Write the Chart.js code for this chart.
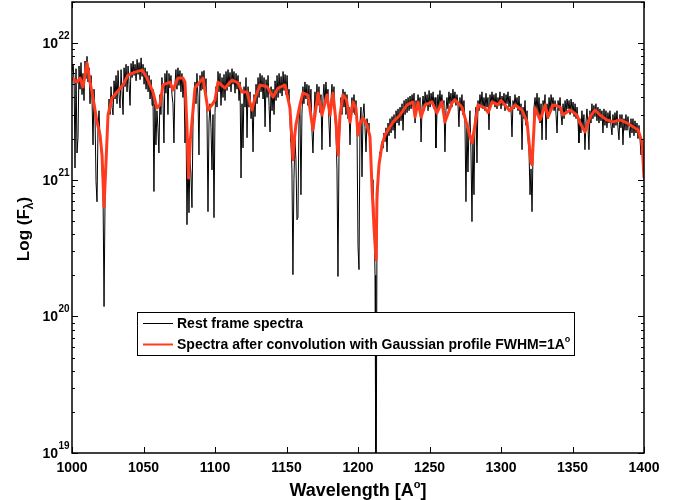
<!DOCTYPE html>
<html>
<head>
<meta charset="utf-8">
<script src="https://cdn.jsdelivr.net/npm/chart.js@4.4.1/dist/chart.umd.min.js"></script>
<style>
  html, body { margin: 0; padding: 0; background: #fff; }
  #wrap { width: 688px; height: 500px; }
</style>
</head>
<body>
<div id="wrap"><canvas id="spec" width="688" height="500"></canvas></div>
<script>
'use strict';
// wavelength in Angstrom, flux in units of 1e21
const waveBlack = [
  1000.0, 1000.8, 1001.5, 1002.1, 1002.8, 1003.5, 1004.2, 1004.9, 1005.6, 1006.3,
  1007.0, 1007.7, 1008.4, 1009.1, 1009.8, 1010.5, 1011.2, 1011.9, 1012.6, 1013.3,
  1014.0, 1014.7, 1015.4, 1016.1, 1016.8, 1017.5, 1018.2, 1018.9, 1019.6, 1020.3,
  1021.0, 1021.7, 1022.4, 1023.1, 1023.8, 1024.5, 1025.2, 1025.9, 1026.6, 1027.3,
  1028.0, 1028.7, 1029.4, 1030.1, 1030.8, 1031.5, 1032.2, 1032.9, 1033.6, 1034.3,
  1035.0, 1035.7, 1036.4, 1037.1, 1037.8, 1038.5, 1039.2, 1039.9, 1040.6, 1041.3,
  1042.0, 1042.7, 1043.4, 1044.1, 1044.8, 1045.5, 1046.2, 1046.9, 1047.6, 1048.3,
  1049.0, 1049.7, 1050.4, 1051.1, 1051.8, 1052.5, 1053.2, 1053.9, 1054.6, 1055.3,
  1056.0, 1056.6, 1057.3, 1058.0, 1058.7, 1059.4, 1060.1, 1060.8, 1061.5, 1062.2,
  1062.9, 1063.6, 1064.3, 1065.0, 1065.7, 1066.4, 1067.1, 1067.8, 1068.5, 1069.2,
  1069.9, 1070.6, 1071.3, 1072.0, 1072.7, 1073.4, 1074.1, 1074.8, 1075.5, 1076.2,
  1076.9, 1077.6, 1078.3, 1079.0, 1079.7, 1080.4, 1081.1, 1081.8, 1082.5, 1083.2,
  1083.9, 1084.6, 1085.3, 1086.0, 1086.7, 1087.4, 1088.1, 1088.8, 1089.5, 1090.2,
  1090.9, 1091.6, 1092.3, 1093.0, 1093.7, 1094.4, 1095.1, 1095.8, 1096.5, 1097.2,
  1097.9, 1098.6, 1099.3, 1100.0, 1100.7, 1101.4, 1102.1, 1102.8, 1103.5, 1104.2,
  1104.9, 1105.6, 1106.3, 1107.0, 1107.7, 1108.4, 1109.1, 1109.8, 1110.5, 1111.2,
  1111.9, 1112.6, 1113.3, 1114.0, 1114.7, 1115.4, 1116.1, 1116.8, 1117.5, 1118.2,
  1118.9, 1119.6, 1120.3, 1121.0, 1121.7, 1122.4, 1123.1, 1123.8, 1124.5, 1125.2,
  1125.9, 1126.6, 1127.3, 1128.0, 1128.7, 1129.4, 1130.1, 1130.8, 1131.5, 1132.2,
  1132.9, 1133.6, 1134.3, 1135.0, 1135.7, 1136.4, 1137.1, 1137.8, 1138.5, 1139.2,
  1139.9, 1140.6, 1141.3, 1142.0, 1142.7, 1143.4, 1144.1, 1144.8, 1145.5, 1146.2,
  1146.9, 1147.6, 1148.3, 1149.0, 1149.7, 1150.4, 1151.1, 1151.8, 1152.5, 1153.1,
  1153.8, 1154.5, 1155.2, 1155.9, 1156.6, 1157.3, 1158.0, 1158.7, 1159.4, 1160.1,
  1160.8, 1161.5, 1162.2, 1162.9, 1163.6, 1164.3, 1165.0, 1165.7, 1166.4, 1167.1,
  1167.8, 1168.5, 1169.2, 1169.9, 1170.6, 1171.3, 1172.0, 1172.7, 1173.4, 1174.1,
  1174.8, 1175.5, 1176.2, 1176.9, 1177.6, 1178.3, 1179.0, 1179.7, 1180.4, 1181.1,
  1181.8, 1182.5, 1183.2, 1183.9, 1184.6, 1185.3, 1186.0, 1186.7, 1187.4, 1188.1,
  1188.8, 1189.5, 1190.2, 1190.9, 1191.6, 1192.3, 1193.0, 1193.7, 1194.4, 1195.1,
  1195.8, 1196.5, 1197.2, 1197.9, 1198.6, 1199.3, 1200.0, 1200.7, 1201.4, 1202.1,
  1202.8, 1203.5, 1204.2, 1204.9, 1205.6, 1206.3, 1207.0, 1207.7, 1208.4, 1209.1,
  1209.8, 1210.5, 1211.2, 1211.9, 1212.4, 1212.8, 1213.3, 1214.0, 1214.7, 1215.4,
  1216.1, 1216.8, 1217.5, 1218.2, 1218.9, 1219.6, 1220.3, 1221.0, 1221.7, 1222.4,
  1223.1, 1223.8, 1224.5, 1225.2, 1225.9, 1226.6, 1227.3, 1228.0, 1228.7, 1229.4,
  1230.1, 1230.8, 1231.5, 1232.2, 1232.9, 1233.6, 1234.3, 1235.0, 1235.7, 1236.4,
  1237.1, 1237.8, 1238.5, 1239.2, 1239.9, 1240.6, 1241.3, 1242.0, 1242.7, 1243.4,
  1244.1, 1244.8, 1245.5, 1246.2, 1246.9, 1247.6, 1248.3, 1249.0, 1249.7, 1250.4,
  1251.1, 1251.8, 1252.5, 1253.2, 1253.9, 1254.5, 1255.2, 1255.9, 1256.6, 1257.3,
  1258.0, 1258.7, 1259.4, 1260.1, 1260.8, 1261.5, 1262.2, 1262.9, 1263.6, 1264.3,
  1265.0, 1265.7, 1266.4, 1267.1, 1267.8, 1268.5, 1269.2, 1269.9, 1270.6, 1271.3,
  1272.0, 1272.7, 1273.4, 1274.1, 1274.8, 1275.5, 1276.2, 1276.9, 1277.6, 1278.3,
  1279.0, 1279.7, 1280.4, 1281.1, 1281.8, 1282.5, 1283.2, 1283.9, 1284.6, 1285.3,
  1286.0, 1286.7, 1287.4, 1288.1, 1288.8, 1289.5, 1290.2, 1290.9, 1291.6, 1292.3,
  1293.0, 1293.7, 1294.4, 1295.1, 1295.8, 1296.5, 1297.2, 1297.9, 1298.6, 1299.3,
  1300.0, 1300.7, 1301.4, 1302.1, 1302.8, 1303.5, 1304.2, 1304.9, 1305.6, 1306.3,
  1307.0, 1307.7, 1308.4, 1309.1, 1309.8, 1310.5, 1311.2, 1311.9, 1312.6, 1313.3,
  1314.0, 1314.7, 1315.4, 1316.1, 1316.8, 1317.5, 1318.2, 1318.9, 1319.6, 1320.3,
  1321.0, 1321.7, 1322.4, 1323.1, 1323.8, 1324.5, 1325.2, 1325.9, 1326.6, 1327.3,
  1328.0, 1328.7, 1329.4, 1330.1, 1330.8, 1331.5, 1332.2, 1332.9, 1333.6, 1334.3,
  1335.0, 1335.7, 1336.4, 1337.1, 1337.8, 1338.5, 1339.2, 1339.9, 1340.6, 1341.3,
  1342.0, 1342.7, 1343.4, 1344.1, 1344.8, 1345.5, 1346.2, 1346.9, 1347.6, 1348.3,
  1349.0, 1349.7, 1350.4, 1351.1, 1351.8, 1352.5, 1353.2, 1353.9, 1354.5, 1355.2,
  1355.9, 1356.6, 1357.3, 1358.0, 1358.7, 1359.4, 1360.1, 1360.8, 1361.5, 1362.2,
  1362.9, 1363.6, 1364.3, 1365.0, 1365.7, 1366.4, 1367.1, 1367.8, 1368.5, 1369.2,
  1369.9, 1370.6, 1371.3, 1372.0, 1372.7, 1373.4, 1374.1, 1374.8, 1375.5, 1376.2,
  1376.9, 1377.6, 1378.3, 1379.0, 1379.7, 1380.4, 1381.1, 1381.8, 1382.5, 1383.2,
  1383.9, 1384.6, 1385.3, 1386.0, 1386.7, 1387.4, 1388.1, 1388.8, 1389.5, 1390.2,
  1390.9, 1391.6, 1392.3, 1393.0, 1393.7, 1394.4, 1395.1, 1395.8, 1396.5, 1397.2,
  1397.9, 1398.6, 1399.3, 1400.0
];
const fluxBlack = [
  6.2, 7.0, 5.0, 1.22, 6.5, 1.57, 2.03, 6.8, 4.6, 7.2,
  4.2, 6.0, 3.8, 7.4, 5.5, 8.0, 5.2, 6.6, 3.6, 5.8,
  3.9, 1.80, 4.6, 2.9, 0.97, 0.69, 2.4, 3.2, 2.0, 1.7,
  1.3, 0.8, 0.118, 0.7, 1.4, 2.1, 2.65, 3.9, 3.0, 4.8,
  3.4, 2.98, 5.3, 3.9, 5.8, 3.6, 6.3, 4.2, 3.35, 6.4,
  4.5, 3.0, 6.6, 4.8, 7.0, 4.4, 6.8, 5.0, 3.5, 7.1,
  5.6, 7.4, 5.8, 7.0, 5.3, 7.6, 5.9, 7.2, 5.4, 7.8,
  5.7, 7.0, 5.0, 6.6, 4.6, 6.2, 4.4, 5.8, 3.9, 5.4,
  3.5, 4.6, 0.82, 3.6, 1.80, 3.2, 2.4, 1.57, 4.2, 3.0,
  5.6, 3.9, 1.86, 6.0, 4.3, 6.3, 3.0, 6.0, 4.7, 5.8,
  4.2, 3.6, 1.86, 5.0, 6.4, 4.6, 6.6, 4.9, 6.3, 4.4,
  6.0, 4.0, 5.4, 1.86, 3.0, 0.469, 1.6, 0.574, 1.4, 1.1,
  0.625, 2.5, 3.8, 5.2, 3.6, 6.0, 4.0, 1.52, 5.8, 4.5,
  6.2, 4.6, 6.3, 4.2, 5.5, 3.0, 0.584, 2.6, 3.6, 2.4,
  1.18, 3.0, 0.528, 3.1, 4.8, 3.4, 6.2, 4.4, 6.0, 3.5,
  5.6, 4.0, 5.9, 3.8, 6.2, 4.5, 6.4, 4.8, 6.1, 4.4,
  6.5, 5.0, 6.2, 4.3, 6.0, 4.6, 5.8, 3.8, 5.2, 1.03,
  3.6, 1.71, 4.8, 3.4, 5.6, 2.03, 4.8, 3.4, 4.4, 2.8,
  3.6, 1.60, 4.2, 2.9, 5.0, 3.6, 5.6, 4.0, 6.0, 4.4,
  5.8, 3.9, 5.6, 2.44, 5.4, 4.0, 5.8, 3.5, 2.24, 4.8,
  3.2, 4.6, 3.0, 5.3, 3.8, 5.8, 4.0, 6.0, 4.3, 5.7,
  4.1, 6.2, 4.5, 5.9, 4.2, 5.8, 4.0, 4.6, 2.6, 1.9,
  1.2, 0.202, 1.0, 2.0, 1.4, 0.51, 0.528, 2.6, 3.6, 0.777,
  3.0, 4.8, 3.6, 5.2, 3.9, 5.0, 3.5, 4.9, 3.3, 4.6,
  2.3, 1.57, 2.8, 4.4, 3.4, 5.0, 3.5, 4.8, 3.1, 4.2,
  1.66, 3.9, 5.0, 3.6, 5.2, 3.8, 4.6, 2.6, 1.74, 3.8,
  5.0, 3.6, 4.8, 2.8, 2.2, 1.2, 0.196, 1.5, 2.6, 4.0,
  3.0, 4.6, 3.4, 4.4, 3.0, 4.2, 2.8, 3.4, 1.80, 3.2,
  4.0, 3.1, 4.2, 3.0, 3.8, 2.4, 0.324, 0.220, 2.6, 3.4,
  1.05, 3.0, 3.6, 2.4, 1.60, 2.8, 2.3, 2.6, 1.9, 1.6,
  0.817, 1.0, 0.55, 0.2, 0.01, 0.01, 0.5, 1.0, 1.3, 1.6,
  1.5, 1.9, 1.7, 2.2, 1.9, 2.4, 1.6, 2.6, 2.1, 2.8,
  2.2, 2.9, 2.3, 3.0, 2.0, 3.2, 2.6, 3.3, 2.5, 3.4,
  2.7, 3.6, 2.3, 3.8, 3.0, 3.9, 3.1, 4.0, 3.2, 4.1,
  3.3, 4.2, 3.4, 4.3, 2.6, 3.8, 3.3, 4.2, 3.4, 4.0,
  1.89, 3.4, 4.1, 3.2, 4.4, 3.5, 4.2, 3.2, 4.5, 3.4,
  4.3, 3.6, 4.4, 3.3, 4.0, 1.71, 3.0, 4.2, 3.4, 4.5,
  3.5, 4.2, 3.1, 3.8, 1.60, 3.2, 4.0, 3.3, 4.4, 3.6,
  4.3, 3.4, 4.6, 3.7, 4.4, 3.5, 4.2, 3.6, 2.44, 4.0,
  3.2, 4.2, 3.0, 3.8, 2.6, 0.691, 2.6, 1.14, 2.4, 3.2,
  1.6, 0.494, 2.0, 0.777, 2.8, 3.4, 1.33, 3.8, 3.2, 4.2,
  3.5, 4.4, 3.3, 4.0, 3.2, 4.3, 3.4, 4.0, 2.32, 4.2,
  3.5, 4.4, 3.6, 4.2, 3.4, 4.3, 3.3, 4.0, 3.5, 4.4,
  3.3, 4.1, 3.5, 4.3, 3.2, 4.2, 3.6, 4.4, 3.4, 4.1,
  3.3, 2.06, 3.8, 3.3, 4.2, 3.5, 4.0, 3.2, 4.1, 3.0,
  3.6, 1.66, 3.4, 2.8, 3.8, 2.5, 3.2, 2.0, 1.6, 0.777,
  1.2, 0.584, 1.6, 3.4, 4.0, 3.2, 4.3, 3.0, 4.0, 2.6,
  3.6, 1.96, 3.8, 3.2, 4.2, 1.96, 3.6, 2.8, 4.0, 3.2,
  4.2, 3.5, 4.0, 3.2, 3.8, 3.0, 2.20, 3.8, 3.2, 4.0,
  3.0, 2.52, 3.6, 2.8, 3.8, 3.1, 3.9, 3.3, 3.8, 3.0,
  3.9, 3.2, 3.7, 2.9, 3.6, 2.8, 3.4, 2.6, 1.86, 2.8,
  2.2, 3.2, 2.4, 3.0, 1.66, 2.6, 3.3, 2.5, 1.66, 3.2,
  2.6, 3.6, 2.8, 3.5, 2.9, 3.6, 2.7, 3.4, 2.6, 3.3,
  2.7, 3.2, 2.20, 3.3, 2.5, 3.2, 2.4, 3.1, 2.6, 3.2,
  2.5, 2.13, 3.0, 2.4, 3.1, 2.5, 3.2, 2.4, 1.96, 3.0,
  2.4, 3.0, 1.80, 2.8, 2.3, 3.0, 2.3, 2.9, 2.4, 2.03,
  2.8, 2.2, 2.8, 2.1, 2.7, 2.2, 2.6, 2.0, 2.5, 2.0,
  1.52, 1.9, 1.3, 1.0
];
const waveRed = [
  1000.0, 1003.5, 1005.6, 1007.7, 1010.5, 1012.6, 1014.7, 1017.5, 1019.6, 1021.0,
  1022.4, 1024.0, 1025.2, 1028.0, 1031.5, 1035.7, 1039.2, 1044.1, 1049.0, 1052.4,
  1056.6, 1059.4, 1061.5, 1063.6, 1068.5, 1070.6, 1074.1, 1077.6, 1079.0, 1080.3,
  1081.5, 1082.8, 1083.9, 1086.0, 1091.6, 1095.1, 1097.9, 1100.0, 1102.1, 1107.0,
  1111.9, 1116.1, 1118.9, 1122.4, 1125.9, 1128.0, 1131.5, 1136.4, 1140.6, 1144.1,
  1149.0, 1152.4, 1153.5, 1154.5, 1155.5, 1156.6, 1159.4, 1161.5, 1165.0, 1168.5,
  1172.0, 1174.8, 1178.3, 1180.4, 1182.5, 1184.6, 1186.0, 1187.4, 1189.5, 1192.0,
  1194.4, 1196.5, 1198.6, 1200.0, 1201.5, 1203.5, 1206.3, 1208.4, 1209.8, 1211.2,
  1212.6, 1213.3, 1214.7, 1216.8, 1218.9, 1222.4, 1224.5, 1229.4, 1234.3, 1238.5,
  1239.9, 1242.0, 1244.1, 1246.9, 1251.7, 1255.2, 1258.7, 1260.8, 1265.7, 1267.8,
  1272.7, 1276.2, 1279.7, 1281.8, 1283.9, 1288.8, 1291.0, 1293.7, 1297.9, 1300.0,
  1302.8, 1306.0, 1309.8, 1314.7, 1318.2, 1321.0, 1321.7, 1323.8, 1327.3, 1330.8,
  1332.9, 1336.4, 1341.3, 1343.4, 1348.3, 1353.1, 1355.2, 1358.7, 1362.2, 1365.7,
  1369.2, 1374.1, 1378.3, 1383.2, 1388.1, 1392.3, 1395.8, 1398.6, 1400.0
];
const fluxRed = [
  5.55, 5.19, 5.55, 4.77, 7.15, 5.19, 3.97, 2.65, 2.13, 1.52,
  0.635, 1.52, 2.98, 3.97, 4.39, 4.94, 5.84, 6.14, 6.35, 5.55,
  4.39, 3.35, 3.53, 4.94, 5.19, 4.54, 5.55, 5.55, 5.19, 2.6,
  1.03, 2.0, 2.65, 4.69, 5.55, 3.24, 3.53, 3.84, 5.19, 4.69,
  5.37, 5.11, 4.39, 4.39, 3.24, 3.97, 4.94, 4.80, 4.03, 4.69,
  4.94, 3.35, 2.2, 1.40, 2.0, 2.52, 3.53, 4.32, 4.17, 2.32,
  4.32, 2.98, 4.17, 2.98, 4.32, 2.65, 1.52, 2.98, 4.17, 3.84,
  2.65, 3.71, 3.35, 2.13, 2.6, 2.83, 2.52, 2.06, 0.874, 0.45,
  0.26, 0.777, 1.29, 1.80, 2.13, 2.44, 2.65, 2.98, 3.53, 3.71,
  2.88, 3.71, 2.88, 3.53, 3.71, 3.08, 3.71, 2.65, 3.65, 3.84,
  3.41, 2.52, 1.86, 2.52, 3.53, 3.35, 3.1, 3.71, 3.53, 3.8,
  3.53, 3.2, 3.53, 3.24, 2.65, 1.33, 1.29, 3.35, 2.74, 3.53,
  2.88, 3.53, 3.41, 2.98, 3.24, 2.98, 2.61, 2.24, 2.88, 3.24,
  2.98, 2.74, 2.65, 2.74, 2.61, 2.44, 2.32, 1.89, 1.03
];
const xTicks = [1000, 1050, 1100, 1150, 1200, 1250, 1300, 1350, 1400];
const yDecades = [19, 20, 21, 22];
const seriesNames = ['Rest frame spectra', 'Spectra after convolution with Gaussian profile FWHM=1A'];

const FONT = '"Liberation Sans", Arial, Helvetica, sans-serif';

function toPoints(w, f) {
    let out = [];
    for (let i = 0; i < Math.min(w.length, f.length); i++) {
        out.push({x: w[i], y: f[i] * 1e21});
    }
    return out;
}

// draws text made of pieces with different size / vertical shift
function richText(c, parts, x, y, align) {
    let total = 0;
    parts.forEach(p => { c.font = 'bold ' + p.size + 'px ' + FONT; p.w = c.measureText(p.t).width; total += p.w; });
    let cx = align === 'center' ? x - total / 2 : x;
    c.textAlign = 'left';
    c.textBaseline = 'alphabetic';
    parts.forEach(p => {
        c.font = 'bold ' + p.size + 'px ' + FONT;
        c.fillText(p.t, cx, y + (p.dy || 0));
        cx += p.w;
    });
}

const matlabFrame = {
    id: 'matlabFrame',
    beforeDraw(chart) {
        const c = chart.ctx;
        c.save();
        c.fillStyle = '#fff';
        c.fillRect(0, 0, chart.width, chart.height);
        c.restore();
    },
    afterDraw(chart) {
        const c = chart.ctx, a = chart.chartArea;
        const xs = chart.scales.x, ys = chart.scales.y;
        c.save();
        c.strokeStyle = '#000';
        c.fillStyle = '#000';

        // ticks, pointing inwards, mirrored
        c.lineWidth = 1;
        c.beginPath();
        xTicks.forEach(v => {
            const px = Math.round(xs.getPixelForValue(v)) + 0.5;
            c.moveTo(px, a.bottom); c.lineTo(px, a.bottom - 6);
            c.moveTo(px, a.top); c.lineTo(px, a.top + 6);
        });
        yDecades.forEach(d => {
            for (let k = 1; k < 10; k++) {
                const v = k * Math.pow(10, d);
                if (v > ys.max) break;
                const py = Math.round(ys.getPixelForValue(v)) + 0.5;
                const len = k === 1 ? 6 : 3;
                c.moveTo(a.left, py); c.lineTo(a.left + len, py);
                c.moveTo(a.right, py); c.lineTo(a.right - len, py);
            }
        });
        c.stroke();

        c.lineWidth = 1.5;
        c.strokeRect(a.left, a.top, a.right - a.left, a.bottom - a.top);

        // y tick labels 10^n
        yDecades.forEach(d => {
            const py = ys.getPixelForValue(Math.pow(10, d));
            c.font = 'bold 14px ' + FONT;
            c.textAlign = 'right';
            c.textBaseline = 'middle';
            c.fillText('10', a.left - 14, py + 1);
            c.font = 'bold 10px ' + FONT;
            c.textAlign = 'left';
            c.fillText(String(d), a.left - 13.5, py - 7);
        });

        // axis titles
        richText(c, [{t: 'Wavelength [A', size: 18}, {t: 'o', size: 11, dy: -8}, {t: ']', size: 18}],
            (a.left + a.right) / 2, 496, 'center');
        c.save();
        c.translate(29, 229);
        c.rotate(-Math.PI / 2);
        richText(c, [{t: 'Log (F', size: 17}, {t: '\u03bb', size: 12, dy: 4}, {t: ')', size: 17}], 0, 0, 'center');
        c.restore();

        // legend
        const lx = 137, ly = 312, lw = 437, lh = 43;
        c.fillStyle = '#fff';
        c.fillRect(lx, ly, lw, lh);
        c.lineWidth = 1;
        c.strokeStyle = '#000';
        c.strokeRect(lx + 0.5, ly + 0.5, lw, lh);
        const ds = chart.data.datasets;
        [0, 1].forEach(i => {
            const yy = ly + 11 + i * 21;
            c.strokeStyle = ds[i].borderColor;
            c.lineWidth = i === 0 ? 1 : 2;
            c.beginPath();
            c.moveTo(lx + 6, yy + 0.5); c.lineTo(lx + 36, yy + 0.5);
            c.stroke();
            c.fillStyle = '#000';
            const parts = [{t: ds[i].label, size: 14}];
            if (i === 1) parts.push({t: 'o', size: 9, dy: -7});
            richText(c, parts, lx + 40, yy + 5, 'left');
        });
        c.restore();
    }
};

let ctx = document.getElementById('spec').getContext('2d');
let spectrumChart = new Chart(ctx, {
    type: 'line',
    data: {
        datasets: [
            {
                label: seriesNames[0],
                data: toPoints(waveBlack, fluxBlack),
                borderColor: '#000000',
                borderWidth: 1,
                pointRadius: 0,
                tension: 0,
                order: 2
            },
            {
                label: seriesNames[1],
                data: toPoints(waveRed, fluxRed),
                borderColor: '#ff3b1f',
                borderWidth: 3,
                pointRadius: 0,
                tension: 0,
                borderJoinStyle: 'round',
                order: 1
            }
        ]
    },
    options: {
        responsive: false,
        animation: false,
        events: [],
        layout: {padding: {top: 2, right: 44, left: 0, bottom: 0}},
        plugins: {legend: {display: false}, tooltip: {enabled: false}},
        scales: {
            x: {
                type: 'linear',
                min: 1000,
                max: 1400,
                afterFit: s => { s.height = 47; },
                grid: {display: false, drawTicks: false},
                border: {display: false},
                ticks: {
                    stepSize: 50,
                    autoSkip: false,
                    maxRotation: 0,
                    padding: 7,
                    color: '#000',
                    font: {family: FONT, weight: 'bold', size: 14},
                    callback: v => String(v)
                }
            },
            y: {
                type: 'logarithmic',
                min: 1e19,
                max: 2e22,
                afterFit: s => { s.width = 72; },
                grid: {display: false, drawTicks: false},
                border: {display: false},
                ticks: {display: false}
            }
        }
    },
    plugins: [matlabFrame]
});
</script>
</body>
</html>
